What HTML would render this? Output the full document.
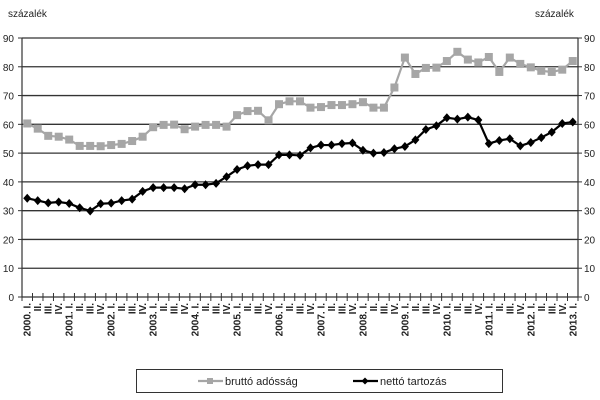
<!DOCTYPE html>
<html><head><meta charset="utf-8"><style>body{margin:0;background:#fff}svg{display:block}</style></head><body>
<svg width="600" height="400" xmlns="http://www.w3.org/2000/svg" font-family="Liberation Sans, sans-serif">
<rect width="600" height="400" fill="#fff"/>
<text x="8" y="17" font-size="10" fill="#222">százalék</text>
<text x="535" y="17" font-size="10" fill="#222">százalék</text>
<g id="g"></g>
</svg>
<script>
const svg=document.querySelector('svg');const NS='http://www.w3.org/2000/svg';
function el(t,a,txt){const e=document.createElementNS(NS,t);for(const k in a)e.setAttribute(k,a[k]);if(txt!==undefined)e.textContent=txt;svg.appendChild(e);return e;}
const L=22,R=578,Y0=297,Y90=38;const sy=v=>Y0-(Y0-Y90)*v/90;const n=53,w=(R-L)/n;const sx=i=>L+w*(i+0.5);
for(let v=0;v<=90;v+=10){const y=sy(v);
 if(v>0)el('line',{x1:L,x2:R,y1:y,y2:y,stroke:'#333','stroke-width':1.3});
 el('line',{x1:L-4,x2:L,y1:y,y2:y,stroke:'#333'});el('line',{x1:R,x2:R+4,y1:y,y2:y,stroke:'#333'});
 el('text',{x:14,y:y+4,'font-size':10,'text-anchor':'end',fill:'#222'},v);
 el('text',{x:584,y:y+4,'font-size':10,fill:'#222'},v);}
el('line',{x1:L,x2:L,y1:Y90,y2:Y0,stroke:'#333','stroke-width':1.2});
el('line',{x1:R,x2:R,y1:Y90,y2:Y0,stroke:'#333','stroke-width':1.2});
el('line',{x1:L,x2:R,y1:Y0,y2:Y0,stroke:'#333','stroke-width':1.3});
for(let i=0;i<=n;i++){const x=L+w*i;el('line',{x1:x,x2:x,y1:Y0-4,y2:Y0+4,stroke:'#333'});}
const q=['I.','II.','III.','IV.'];
for(let i=0;i<n;i++){const x=sx(i)+3.5;const lab=i%4==0?(2000+i/4)+'. I.':q[i%4];
 el('text',{x:0,y:0,'font-size':10,'font-weight':'bold','text-anchor':'end',fill:'#222',transform:`translate(${x},303) rotate(-90)`},lab);}
const g=[60.3,58.5,56,55.7,54.7,52.5,52.5,52.4,52.8,53.2,54.2,55.7,59,59.8,59.9,58.3,59.2,59.8,59.8,59.2,63.2,64.6,64.7,61.4,67,68,68,65.8,66,66.7,66.7,67,67.7,65.8,65.8,72.8,83.2,77.5,79.6,79.7,82,85.2,82.5,81.5,83.4,78.2,83.2,81,79.8,78.6,78.2,79,82];
const nt=[34.3,33.5,32.7,33,32.5,31,29.9,32.4,32.6,33.5,34,36.7,38,38,38,37.6,39,39,39.5,41.8,44.3,45.6,46,46,49.4,49.4,49.2,51.8,52.8,52.8,53.3,53.5,51,50,50.2,51.5,52.3,54.6,58.2,59.5,62.3,61.8,62.5,61.5,53.3,54.4,55,52.5,53.7,55.4,57.3,60.3,60.8];
el('polyline',{points:g.map((v,i)=>sx(i)+','+sy(v)).join(' '),fill:'none',stroke:'#a6a6a6','stroke-width':2.2});
g.forEach((v,i)=>el('rect',{x:sx(i)-4,y:sy(v)-4,width:8,height:8,fill:'#a6a6a6'}));
el('polyline',{points:nt.map((v,i)=>sx(i)+','+sy(v)).join(' '),fill:'none',stroke:'#000','stroke-width':2.2});
nt.forEach((v,i)=>{const x=sx(i),y=sy(v);el('polygon',{points:`${x},${y-4.5} ${x+4},${y} ${x},${y+4.5} ${x-4},${y}`,fill:'#000'});});
el('rect',{x:136.5,y:369.5,width:366,height:23,fill:'#fff',stroke:'#333'});
el('line',{x1:198,x2:223,y1:381,y2:381,stroke:'#a6a6a6','stroke-width':2.2});
el('rect',{x:207,y:378,width:6,height:6,fill:'#a6a6a6'});
el('text',{x:225,y:385,'font-size':11,fill:'#222'},'bruttó adósság');
el('line',{x1:353,x2:378,y1:381,y2:381,stroke:'#000','stroke-width':2.2});
el('polygon',{points:'365,377.5 368.5,381 365,384.5 361.5,381',fill:'#000'});
el('text',{x:380,y:385,'font-size':11,fill:'#222'},'nettó tartozás');
</script>
</body></html>
